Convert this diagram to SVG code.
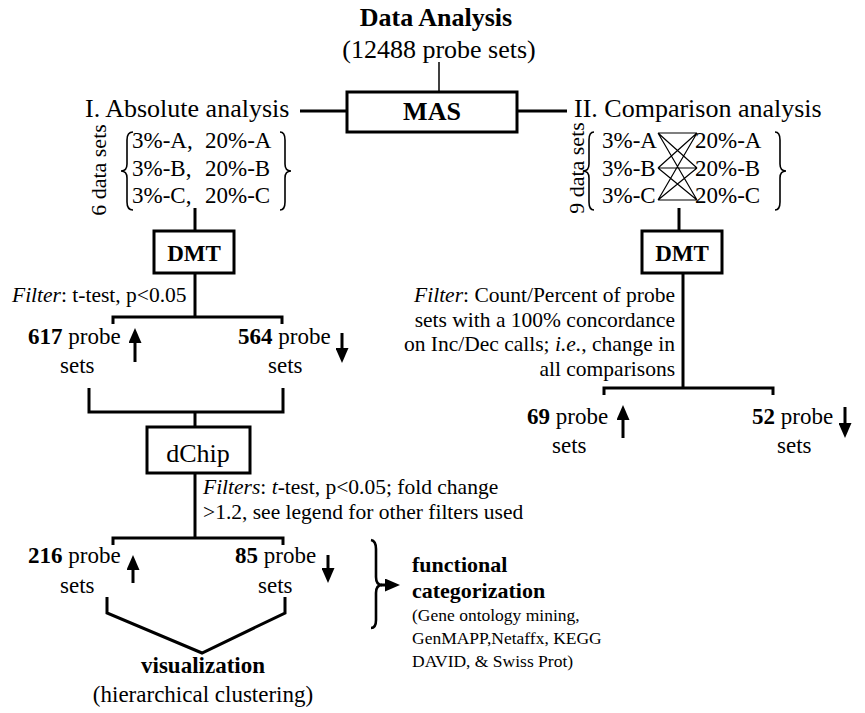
<svg xmlns="http://www.w3.org/2000/svg" width="865" height="713" viewBox="0 0 865 713" font-family="'Liberation Serif', 'DejaVu Serif', serif">
<style>
text{font-family:'Liberation Serif','DejaVu Serif',serif;fill:#000}
.t26{font-size:26px}
.t23{font-size:23px}
.t22{font-size:22px}
.t21{font-size:21.5px}
.t18{font-size:17.5px}
.b{font-weight:bold}
.i{font-style:italic}
.box{fill:#fff;stroke:#000;stroke-width:3}
.conn{fill:none;stroke:#000;stroke-width:3}
.thin{fill:none;stroke:#000;stroke-width:1.5}
.brace{fill:none;stroke:#000;stroke-width:1.6}
.bigbrace{fill:none;stroke:#000;stroke-width:2.6}
.arr{fill:none;stroke:#000;stroke-width:3;marker-end:url(#tri)}
.cross{fill:none;stroke:#000;stroke-width:1.2}
</style>
<defs>
<marker id="tri" viewBox="0 0 15 13" refX="6" refY="6.5" markerWidth="15" markerHeight="13" markerUnits="userSpaceOnUse" orient="auto">
<path d="M0,0 L15,6.5 L0,13 z" fill="#000"/>
</marker>
</defs>

<g id="connectors">
<line class="thin" x1="439" y1="62" x2="439" y2="92"/>
<line class="conn" x1="300" y1="111" x2="347" y2="111"/>
<line class="conn" x1="517" y1="111" x2="567" y2="111"/>
<line class="conn" x1="195" y1="208" x2="195" y2="231"/>
<line class="conn" x1="195" y1="273" x2="195" y2="317"/>
<polyline class="conn" points="113,324 113,317 282,317 282,324"/>
<polyline class="conn" points="89,388 89,412 283,412 283,388"/>
<line class="conn" x1="195" y1="412" x2="195" y2="427"/>
<line class="conn" x1="195" y1="473" x2="195" y2="538"/>
<polyline class="conn" points="113,545 113,538 283,538 283,545"/>
<polyline class="conn" points="107,597 107,613 202,653 285,613 285,597"/>
<line class="conn" x1="679" y1="208" x2="679" y2="231"/>
<line class="conn" x1="683" y1="273" x2="683" y2="388"/>
<polyline class="conn" points="604,395 604,388 773,388 773,395"/>
<path class="bigbrace" d="M371,540 Q376,541 376,549 L376,577 Q376,585 382,585 Q376,585 376,593 L376,620 Q376,628 371,628"/>
<line class="conn" x1="381" y1="585" x2="391" y2="585" style="marker-end:url(#tri)"/>
</g>

<g id="title">
<text class="t26 b" x="436" y="26" text-anchor="middle">Data Analysis</text>
<text class="t26" x="439" y="58" text-anchor="middle">(12488 probe sets)</text>
</g>

<g id="mas">
<rect class="box" x="347" y="92" width="170" height="40"/>
<text class="t26 b" x="432" y="120" text-anchor="middle">MAS</text>
</g>

<g id="absolute-analysis">
<text class="t26" x="85" y="117">I. Absolute analysis</text>
</g>

<g id="comparison-analysis">
<text class="t26" x="574" y="117">II. Comparison analysis</text>
</g>

<g id="abs-datasets">
<text class="t22" transform="translate(106,170) rotate(-90)" text-anchor="middle">6 data sets</text>
<path class="brace" d="M133,132 Q127,132 127,140 L127,164 Q127,171 121,171 Q127,171 127,178 L127,202 Q127,210 133,210"/>
<path class="brace" d="M280,132 Q285,132 285,140 L285,164 Q285,171 291,171 Q285,171 285,178 L285,202 Q285,210 280,210"/>
<text class="t23" x="132" y="148">3%-A,</text>
<text class="t23" x="205" y="148">20%-A</text>
<text class="t23" x="132" y="176">3%-B,</text>
<text class="t23" x="205" y="176">20%-B</text>
<text class="t23" x="132" y="203">3%-C,</text>
<text class="t23" x="205" y="203">20%-C</text>
</g>

<g id="comp-datasets">
<text class="t22" transform="translate(584,168) rotate(-90)" text-anchor="middle">9 data sets</text>
<path class="brace" d="M594,132 Q589,132 589,140 L589,164 Q589,171 583,171 Q589,171 589,178 L589,202 Q589,210 594,210"/>
<path class="brace" d="M775,132 Q780,132 780,140 L780,164 Q780,171 786,171 Q780,171 780,178 L780,202 Q780,210 775,210"/>
<text class="t23" x="602" y="148">3%-A</text>
<text class="t23" x="695" y="148">20%-A</text>
<text class="t23" x="602" y="176">3%-B</text>
<text class="t23" x="695" y="176">20%-B</text>
<text class="t23" x="602" y="203">3%-C</text>
<text class="t23" x="695" y="203">20%-C</text>
<path class="cross" d="M658,133 L697,133 M658,168 L697,168 M658,200 L697,200 M658,133 L697,168 M658,133 L697,200 M658,168 L697,133 M658,168 L697,200 M658,200 L697,133 M658,200 L697,168"/>
</g>

<g id="dmt-left">
<rect class="box" x="154" y="231" width="80" height="42"/>
<text class="t23 b" x="194" y="261" text-anchor="middle">DMT</text>
</g>

<g id="dmt-right">
<rect class="box" x="642" y="231" width="80" height="42"/>
<text class="t23 b" x="682" y="261" text-anchor="middle">DMT</text>
</g>

<g id="filter-left">
<text class="t21" x="12" y="302"><tspan class="i">Filter</tspan>: t-test, p&lt;0.05</text>
</g>

<g id="filter-right">
<text class="t21" x="675" y="302" text-anchor="end"><tspan class="i">Filter</tspan>: Count/Percent of probe</text>
<text class="t21" x="675" y="327" text-anchor="end">sets with a 100% concordance</text>
<text class="t21" x="675" y="351" text-anchor="end">on Inc/Dec calls; <tspan class="i">i.e.</tspan>, change in</text>
<text class="t21" x="675" y="376" text-anchor="end">all comparisons</text>
</g>

<g id="probes-617">
<text class="t23" x="28" y="344"><tspan class="b">617</tspan> probe</text>
<text class="t23" x="60" y="373">sets</text>
<line class="arr" x1="135" y1="362" x2="135" y2="337"/>
</g>

<g id="probes-564">
<text class="t23" x="238" y="344"><tspan class="b">564</tspan> probe</text>
<text class="t23" x="268" y="373">sets</text>
<line class="arr" x1="342" y1="333" x2="342" y2="354"/>
</g>

<g id="probes-69">
<text class="t23" x="527" y="424"><tspan class="b">69</tspan> probe</text>
<text class="t23" x="552" y="453">sets</text>
<line class="arr" x1="623" y1="438" x2="623" y2="414"/>
</g>

<g id="probes-52">
<text class="t23" x="752" y="424"><tspan class="b">52</tspan> probe</text>
<text class="t23" x="777" y="453">sets</text>
<line class="arr" x1="845" y1="407" x2="845" y2="429"/>
</g>

<g id="dchip">
<rect class="box" x="147" y="427" width="103" height="46"/>
<text class="t26" x="198" y="462" text-anchor="middle">dChip</text>
</g>

<g id="filters-dchip">
<text class="t21" x="203" y="494"><tspan class="i">Filters</tspan>: <tspan class="i">t</tspan>-test, p&lt;0.05; fold change</text>
<text class="t21" x="203" y="519">&gt;1.2, see legend for other filters used</text>
</g>

<g id="probes-216">
<text class="t23" x="28" y="563"><tspan class="b">216</tspan> probe</text>
<text class="t23" x="60" y="593">sets</text>
<line class="arr" x1="133" y1="583" x2="133" y2="564"/>
</g>

<g id="probes-85">
<text class="t23" x="235" y="563"><tspan class="b">85</tspan> probe</text>
<text class="t23" x="258" y="593">sets</text>
<line class="arr" x1="328" y1="555" x2="328" y2="574"/>
</g>

<g id="visualization">
<text class="t23 b" x="203" y="673" text-anchor="middle">visualization</text>
<text class="t23" x="203" y="702" text-anchor="middle">(hierarchical clustering)</text>
</g>

<g id="functional">
<text class="t22 b" x="412" y="572">functional</text>
<text class="t22 b" x="412" y="598">categorization</text>
<text class="t18" x="412" y="621">(Gene ontology mining,</text>
<text class="t18" x="412" y="644">GenMAPP,Netaffx, KEGG</text>
<text class="t18" x="412" y="667">DAVID, &amp; Swiss Prot)</text>
</g>
</svg>
